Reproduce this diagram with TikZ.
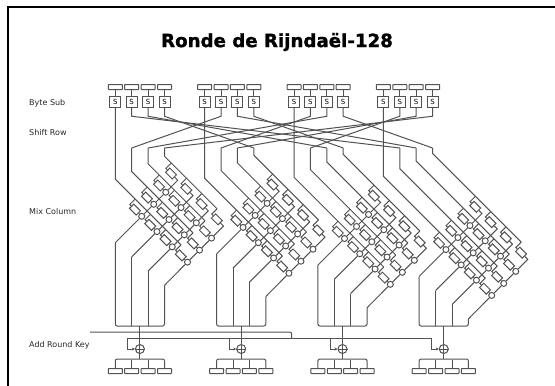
\documentclass[tikz,border=0pt]{standalone}
\usepackage{fontspec}
\setmainfont{DejaVu Sans}
\newfontfamily\titlefont[FakeBold=1.3]{DejaVu Sans Bold}
\usetikzlibrary{arrows.meta, shapes.geometric, positioning, calc}

\begin{document}
\begin{tikzpicture}[x=1pt, y=1pt, >={Stealth[length=3pt,width=3pt]},
    wire/.style={black!68, line width=1pt},
    busline/.style={wire, rounded corners=2pt},
    bytebox/.style={draw=black!68, line width=1pt, fill=white, minimum width=14pt, minimum height=5pt, inner sep=0pt, rounded corners=0.5pt},
    sbox/.style={draw=black!68, line width=1pt, fill=white, minimum width=11pt, minimum height=10.5pt, inner sep=0pt, font=\fontsize{7}{8}\selectfont},
    mulbox/.style={draw=black!68, line width=1pt, fill=white, minimum width=9.5pt, minimum height=6pt, inner sep=0pt, rotate=-45},
    xorpt/.style={circle, draw=black!68, line width=1pt, fill=white, minimum size=6pt, inner sep=0pt},
    addpt/.style={circle, draw=black!68, line width=1pt, minimum size=9pt, inner sep=0pt},
    steplabel/.style={anchor=west, inner sep=0pt, black!85, font=\fontsize{8}{9}\selectfont}]

  \useasboundingbox (0,0) rectangle (555,-386);

  % --- Frame and Labels ---
  \draw[black, line width=2.4pt] (8,-386) -- (8,-7) -- (555,-7);
  \node[inner sep=0pt, font=\fontsize{18.2}{20}\selectfont\titlefont] (title) at (277,-42) {Ronde de Rijndaël-128};
  \node[steplabel] (bytesub) at (29,-103) {Byte Sub};
  \node[steplabel] (shiftrow) at (29,-133) {Shift Row};
  \node[steplabel] (mixcol) at (29,-212) {Mix Column};
  \node[steplabel] (addkey) at (29,-345) {Add Round Key};

  % --- Byte Sub: input bytes and S boxes ---
  \foreach \m in {0,...,3} {
    \foreach \b in {0,...,3} {
      \pgfmathsetmacro{\xs}{115.3+89.35*\m+16.4*\b}
      \node[bytebox] (in-\m-\b) at (\xs,-87) {};
      \node[sbox] (s-\m-\b) at (\xs,-102) {S};
      \draw[wire] (in-\m-\b) -- (s-\m-\b);
      \coordinate (top-\m-\b) at (\xs,-148);
    }
  }

  % --- Shift Row: every byte goes to its column ---
  \foreach \m in {0,...,3} {
    \foreach \b in {1,2,3} {
      \pgfmathtruncatemacro{\src}{mod(\m+\b,4)}
      \draw[wire] (s-\src-\b.south) -- ++(0,-8.5) -- (top-\m-\b);
    }
  }

  % --- Mix Column ---
  \foreach \m in {0,...,3} {
    \pgfmathsetmacro{\ox}{141.7+101.4*\m}
    \pgfmathsetmacro{\oy}{216.3+11.1*\m}
    \pgfmathsetmacro{\xb}{115.3+101.3*\m}

    % Diagonal inputs, from the column down to the last row
    \begin{scope}[shift={(\ox,-\oy)}, rotate=-45]
      \foreach \k in {0,...,3} {
        \pgfmathsetmacro{\yk}{7.6+17*\k}
        \coordinate (end-\m-\k) at (48,\yk);
      }
      \foreach \j in {0,...,3} {
        \pgfmathsetmacro{\xj}{21.6*\j}
        \foreach \i in {0,1,2} {
          \pgfmathsetmacro{\yi}{17*\i}
          \node[xorpt] (xor-\m-\i-\j) at (\xj,\yi) {};
        }
        \coordinate (turn-\m-\j) at (\xj,51);
      }
    \end{scope}
    \foreach \k in {0,...,3} {
      \pgfmathsetmacro{\xk}{115.3+89.35*\m+16.4*\k}
      \pgfmathsetmacro{\yk}{\oy+\xk-\ox-1.4142*(7.6+17*\k)}
      \ifnum\k=0
        \draw[wire] (s-\m-0.south) -- (\xk,-\yk) -- (end-\m-\k);
      \else
        \draw[wire] (top-\m-\k) -- (\xk,-\yk) -- (end-\m-\k);
      \fi
    }

    % Branches through the small boxes into the XOR points
    \begin{scope}[shift={(\ox,-\oy)}, rotate=-45]
      \foreach \j in {0,...,3} {
        \pgfmathsetmacro{\xj}{21.6*\j}
        \pgfmathsetmacro{\xt}{\xj-16.8}
        \pgfmathsetmacro{\xc}{\xj-9.5}
        \foreach \i in {0,1,2} {
          \pgfmathsetmacro{\yi}{17*\i}
          \pgfmathsetmacro{\yk}{7.6+17*\i}
          \node[mulbox] (mul-\m-\i-\j) at (\xc,\yi) {};
          \draw[wire] (\xt,\yk) -- (\xt,\yi) -- (mul-\m-\i-\j);
          \draw[wire] (mul-\m-\i-\j) -- (xor-\m-\i-\j);
        }
        \node[mulbox] (mul-\m-3-\j) at (\xc,51) {};
        \draw[wire] (\xt,58.6) -- (\xt,51) -- (mul-\m-3-\j);
        \draw[wire] (mul-\m-3-\j) -- (turn-\m-\j) -- (xor-\m-2-\j);
        \foreach \i/\ii in {0/1,1/2} {
          \draw[wire] (xor-\m-\i-\j) -- (xor-\m-\ii-\j);
        }
      }
    \end{scope}

    % Outputs down to the bus
    \foreach \j in {0,...,3} {
      \pgfmathsetmacro{\xo}{\xb+16.4*\j}
      \pgfmathsetmacro{\yo}{\ox+\oy+30.6*\j-\xo}
      \coordinate (low-\m-\j) at (\xo,-\yo);
      \coordinate (foot-\m-\j) at (\xo,-326);
      \draw[wire] (xor-\m-0-\j) -- (low-\m-\j);
    }
    \draw[busline] (low-\m-0) -- (foot-\m-0) -- (foot-\m-3) -- (low-\m-3);
    \draw[wire] (low-\m-1) -- (foot-\m-1);
    \draw[wire] (low-\m-2) -- (foot-\m-2);

    % Add Round Key and output bytes
    \pgfmathsetmacro{\xc}{\xb+24.6}
    \coordinate (bus-\m) at (\xc,-326);
    \node[addpt] (add-\m) at (\xc,-349) {};
    \coordinate (sum-\m) at (\xc,-359);
    \coordinate (key-\m) at ($(\xc,-338)+(-12,0)$);
    \draw[wire] (bus-\m) -- (sum-\m);
    \draw[wire] (add-\m.west) -- (add-\m.east);
    \draw[wire, ->] (key-\m) |- (add-\m.west);
    \foreach \b in {0,...,3} {
      \pgfmathsetmacro{\xo}{\xb+16.4*\b}
      \node[bytebox] (out-\m-\b) at (\xo,-371) {};
    }
    \draw[busline] (out-\m-0.north) |- (sum-\m) -| (out-\m-3.north);
    \draw[wire] (out-\m-1.north) -- ++(0,8.5);
    \draw[wire] (out-\m-2.north) -- ++(0,8.5);
  }

  % --- Round key lines ---
  \coordinate (keyin) at (90,-332);
  \coordinate (keydrop) at (291.7,-332);
  \draw[busline] (keyin) -- (keydrop) -- (291.7,-338);
  \draw[busline] (key-0) -- (key-3);
\end{tikzpicture}
\end{document}
